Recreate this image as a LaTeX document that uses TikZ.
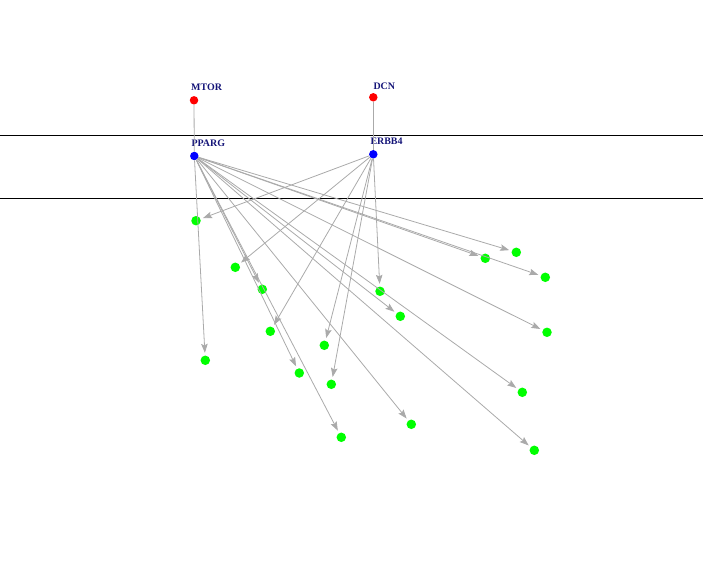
\documentclass[tikz,border=0pt]{standalone}
\usepackage{fontspec}
\setmainfont{Liberation Serif}
\usepackage{tikz}
\usetikzlibrary{arrows.meta}
\definecolor{navytext}{RGB}{20,20,120}
\definecolor{edgegray}{RGB}{170,170,170}
\tikzset{
    gene/.style={circle, inner sep=0pt, minimum size=8.5bp},
    hub/.style={gene, fill=red},
    mid/.style={gene, fill=blue},
    leaf/.style={gene, fill=green, minimum size=9.5bp},
    tag/.style={anchor=base west, inner sep=0pt, xshift=-3bp, yshift=5bp, text=navytext, font=\fontsize{10}{11}\selectfont\bfseries},
    link/.style={draw=edgegray, line width=0.8bp},
    hit/.style={link, -{Stealth[length=9bp,width=6.5bp,inset=1.5bp]}, shorten >=2.5bp},
}
\begin{document}
\begin{tikzpicture}[x=1bp, y=-1bp]
                 \useasboundingbox (0,0) rectangle (703,567);
                 % band lines
                 \coordinate (bandAl) at (0,135);
                 \coordinate (bandAr) at (703,135);
                 \coordinate (bandBl) at (0,198.5);
                 \coordinate (bandBr) at (703,198.5);
                 \draw[line width=0.8bp] (bandAl)--(bandAr);
                 \draw[line width=0.8bp] (bandBl)--(bandBr);
                 % top genes
                 \node[hub, label={[tag]90:MTOR}] (mtor) at (194,100.3) {};
                 \node[hub, label={[tag, xshift=3bp, yshift=-2bp]90:DCN}] (dcn) at (373.3,97.3) {};
                 \node[mid, label={[tag]90:PPARG}] (pparg) at (194.3,156) {};
                 \node[mid, label={[tag]90:ERBB4}] (erbb4) at (373.3,154.3) {};
                 % targets
                 \node[leaf] (g1) at (196,220.7) {};
                 \node[leaf] (g2) at (235.3,267.3) {};
                 \node[leaf] (g3) at (262.3,289.3) {};
                 \node[leaf] (g4) at (270.3,331.3) {};
                 \node[leaf] (g5) at (205.3,360.3) {};
                 \node[leaf] (g6) at (299.3,373) {};
                 \node[leaf] (g7) at (324.3,345.3) {};
                 \node[leaf] (g8) at (331.3,384.3) {};
                 \node[leaf] (g9) at (341.3,437.3) {};
                 \node[leaf] (g10) at (380,291.3) {};
                 \node[leaf] (g11) at (400.3,316.3) {};
                 \node[leaf] (g12) at (411.3,424.3) {};
                 \node[leaf] (g13) at (485.3,258.3) {};
                 \node[leaf] (g14) at (516.3,252.3) {};
                 \node[leaf] (g15) at (545.3,277.3) {};
                 \node[leaf] (g16) at (547,332.3) {};
                 \node[leaf] (g17) at (522.3,392.3) {};
                 \node[leaf] (g18) at (534.3,450.3) {};
                 % links
                 \draw[link] (mtor)--(pparg);
                 \draw[link] (dcn)--(erbb4);
                 \foreach \t in {g3,g5,g6,g9,g11,g12,g13,g14,g15,g16,g17,g18}
                     \draw[hit] (pparg)--(\t);
                 \foreach \t in {g1,g2,g4,g7,g8,g10}
                     \draw[hit] (erbb4)--(\t);
             \end{tikzpicture}
\end{document}
